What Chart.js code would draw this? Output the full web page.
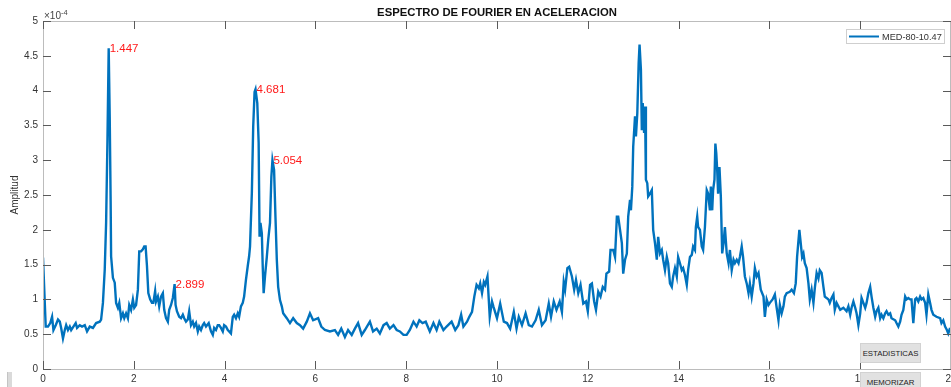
<!DOCTYPE html>
<html>
<head>
<meta charset="utf-8">
<title>Espectro de Fourier</title>
<script src="https://cdn.jsdelivr.net/npm/chart.js@4.4.1/dist/chart.umd.min.js"></script>
<style>
  body { margin: 0; background: #fff; overflow: hidden; }
  #wrap { position: relative; width: 951px; height: 387px; overflow: hidden; }
  .btn {
    position: absolute; left: 860px; width: 61px; height: 20px;
    box-sizing: border-box; background: #e1e1e1; border: 1px solid #d2d2d2;
    font: 7.8px 'Liberation Sans', Arial, sans-serif; color: #222;
    display: flex; align-items: center; justify-content: center;
  }
  #slider { position: absolute; left: 7px; top: 372px; width: 5px; height: 16px;
    background: #dadada; border-left: 1px solid #c4c4c4; box-sizing: border-box; }
</style>
</head>
<body>
<div id="wrap">
  <canvas id="myChart" width="951" height="387"></canvas>
  <div class="btn" style="top:343px">ESTADISTICAS</div>
  <div class="btn" style="top:372px">MEMORIZAR</div>
  <div id="slider"></div>
</div>
<script>
// Data: espectro de Fourier (amplitud en unidades de 1e-4)
const seriesName = 'MED-80-10.47';
const freq = [
  0.00, 0.06, 0.11, 0.16, 0.20, 0.23, 0.28, 0.33, 0.37, 0.40, 0.44, 0.48, 0.51, 0.55, 0.59, 0.62,
  0.67, 0.72, 0.75, 0.81, 0.86, 0.92, 0.97, 1.03, 1.10, 1.17, 1.25, 1.28, 1.32, 1.36, 1.39, 1.42,
  1.447, 1.47, 1.49, 1.50, 1.54, 1.58, 1.61, 1.65, 1.68, 1.72, 1.76, 1.79, 1.83, 1.87, 1.90, 1.94,
  1.98, 2.01, 2.05, 2.09, 2.12, 2.16, 2.20, 2.23, 2.26, 2.29, 2.32, 2.36, 2.40, 2.43, 2.47, 2.49,
  2.53, 2.56, 2.60, 2.64, 2.67, 2.71, 2.75, 2.78, 2.82, 2.86, 2.899, 2.92, 2.95, 3.00, 3.04, 3.08,
  3.11, 3.15, 3.19, 3.22, 3.26, 3.30, 3.33, 3.37, 3.41, 3.44, 3.48, 3.52, 3.55, 3.59, 3.65, 3.70,
  3.74, 3.77, 3.81, 3.85, 3.88, 3.92, 3.96, 3.99, 4.03, 4.07, 4.10, 4.14, 4.18, 4.21, 4.25, 4.29,
  4.32, 4.36, 4.40, 4.43, 4.47, 4.51, 4.54, 4.56, 4.60, 4.63, 4.66, 4.681, 4.72, 4.75, 4.77, 4.79,
  4.82, 4.84, 4.86, 4.89, 4.93, 4.96, 5.00, 5.03, 5.054, 5.09, 5.12, 5.15, 5.18, 5.22, 5.26, 5.29,
  5.37, 5.44, 5.51, 5.59, 5.66, 5.73, 5.81, 5.88, 5.95, 6.06, 6.13, 6.21, 6.32, 6.43, 6.50, 6.57,
  6.65, 6.72, 6.80, 6.87, 6.94, 7.02, 7.09, 7.20, 7.27, 7.35, 7.42, 7.50, 7.57, 7.64, 7.72, 7.79,
  7.86, 7.94, 8.01, 8.08, 8.16, 8.23, 8.29, 8.36, 8.43, 8.52, 8.60, 8.67, 8.73, 8.82, 8.89, 9.00,
  9.08, 9.15, 9.21, 9.26, 9.34, 9.39, 9.45, 9.50, 9.55, 9.60, 9.63, 9.67, 9.71, 9.74, 9.79, 9.84,
  9.89, 9.92, 10.00, 10.07, 10.15, 10.22, 10.29, 10.37, 10.43, 10.48, 10.55, 10.63, 10.70, 10.77, 10.85, 10.92,
  10.99, 11.07, 11.14, 11.19, 11.25, 11.31, 11.38, 11.43, 11.47, 11.50, 11.55, 11.59, 11.65, 11.70, 11.74, 11.79,
  11.84, 11.90, 11.96, 12.00, 12.05, 12.09, 12.14, 12.18, 12.23, 12.28, 12.33, 12.38, 12.41, 12.47, 12.50, 12.56,
  12.60, 12.64, 12.67, 12.71, 12.75, 12.78, 12.82, 12.86, 12.89, 12.93, 12.95, 12.98, 13.00, 13.04, 13.06, 13.09,
  13.12, 13.14, 13.17, 13.19, 13.21, 13.24, 13.26, 13.28, 13.31, 13.33, 13.37, 13.41, 13.44, 13.48, 13.52, 13.55,
  13.59, 13.63, 13.66, 13.70, 13.74, 13.77, 13.81, 13.85, 13.88, 13.92, 13.96, 13.99, 14.03, 14.07, 14.10, 14.14,
  14.18, 14.21, 14.25, 14.29, 14.32, 14.36, 14.38, 14.41, 14.43, 14.47, 14.51, 14.54, 14.58, 14.62, 14.65, 14.69,
  14.71, 14.74, 14.76, 14.79, 14.81, 14.83, 14.85, 14.87, 14.90, 14.93, 14.96, 14.99, 15.02, 15.06, 15.10, 15.13,
  15.17, 15.21, 15.24, 15.28, 15.32, 15.35, 15.39, 15.42, 15.46, 15.50, 15.54, 15.57, 15.61, 15.65, 15.68, 15.72,
  15.76, 15.81, 15.87, 15.90, 15.94, 15.98, 16.01, 16.07, 16.12, 16.16, 16.20, 16.23, 16.27, 16.31, 16.34, 16.38,
  16.45, 16.49, 16.54, 16.58, 16.61, 16.66, 16.69, 16.72, 16.75, 16.78, 16.82, 16.86, 16.89, 16.93, 16.97, 17.00,
  17.04, 17.08, 17.11, 17.15, 17.19, 17.22, 17.26, 17.30, 17.33, 17.37, 17.41, 17.44, 17.48, 17.52, 17.56, 17.63,
  17.70, 17.74, 17.78, 17.81, 17.85, 17.89, 17.92, 17.96, 18.00, 18.03, 18.07, 18.11, 18.14, 18.18, 18.22, 18.25,
  18.29, 18.33, 18.36, 18.40, 18.44, 18.47, 18.51, 18.55, 18.58, 18.62, 18.66, 18.69, 18.77, 18.80, 18.84, 18.88,
  18.91, 18.95, 18.99, 19.02, 19.06, 19.10, 19.13, 19.17, 19.21, 19.24, 19.28, 19.32, 19.35, 19.39, 19.43, 19.46,
  19.50, 19.54, 19.57, 19.61, 19.68, 19.76, 19.79, 19.83, 19.87, 19.91, 19.94, 19.98
];
const amp = [
  1.60, 0.61, 0.61, 0.66, 0.75, 0.56, 0.63, 0.71, 0.68, 0.59, 0.44, 0.56, 0.63, 0.56, 0.61, 0.56,
  0.61, 0.66, 0.59, 0.63, 0.61, 0.63, 0.54, 0.61, 0.59, 0.66, 0.68, 0.71, 0.95, 1.43, 2.10, 3.30,
  4.61, 3.60, 2.40, 1.62, 1.31, 1.24, 0.95, 0.88, 0.95, 0.73, 0.80, 0.73, 0.80, 0.73, 0.92, 0.85,
  1.00, 0.88, 0.92, 1.14, 1.69, 1.69, 1.72, 1.76, 1.76, 1.48, 1.09, 1.00, 0.95, 0.95, 1.12, 0.97,
  1.04, 0.90, 1.04, 1.09, 0.85, 0.73, 0.68, 0.85, 0.92, 1.02, 1.22, 0.92, 0.83, 0.75, 0.73, 0.78,
  0.73, 0.68, 0.71, 0.83, 0.63, 0.68, 0.61, 0.66, 0.54, 0.61, 0.56, 0.63, 0.66, 0.61, 0.66, 0.54,
  0.49, 0.59, 0.56, 0.63, 0.63, 0.59, 0.54, 0.63, 0.61, 0.56, 0.54, 0.51, 0.75, 0.78, 0.73, 0.80,
  0.75, 0.90, 0.95, 1.04, 1.28, 1.48, 1.62, 1.76, 2.53, 3.48, 3.98, 4.02, 3.82, 3.25, 1.90, 2.10,
  1.95, 1.47, 1.09, 1.33, 1.61, 1.85, 2.10, 2.76, 3.00, 2.86, 2.19, 1.57, 1.18, 0.99, 0.90, 0.80,
  0.73, 0.66, 0.73, 0.66, 0.63, 0.58, 0.68, 0.80, 0.70, 0.73, 0.61, 0.56, 0.54, 0.56, 0.49, 0.58,
  0.46, 0.56, 0.49, 0.58, 0.66, 0.49, 0.56, 0.68, 0.54, 0.58, 0.51, 0.63, 0.66, 0.58, 0.63, 0.56,
  0.54, 0.49, 0.49, 0.56, 0.68, 0.61, 0.70, 0.66, 0.68, 0.54, 0.66, 0.56, 0.68, 0.56, 0.61, 0.68,
  0.56, 0.63, 0.78, 0.61, 0.68, 0.75, 0.82, 1.04, 1.21, 1.16, 1.23, 1.09, 1.25, 1.21, 1.33, 0.75,
  0.97, 0.90, 0.73, 0.94, 0.68, 0.66, 0.58, 0.82, 0.58, 0.75, 0.63, 0.80, 0.63, 0.61, 0.70, 0.85,
  0.63, 0.70, 0.94, 0.75, 0.97, 0.85, 0.97, 0.82, 1.25, 1.14, 1.45, 1.47, 1.33, 1.14, 1.28, 1.09,
  1.21, 0.94, 0.97, 0.83, 1.21, 1.23, 0.97, 0.85, 1.11, 1.04, 1.18, 1.14, 1.37, 1.40, 1.71, 1.71,
  1.61, 2.19, 2.19, 2.00, 1.81, 1.37, 1.57, 1.66, 2.19, 2.43, 2.28, 2.62, 3.19, 3.63, 3.34, 3.67,
  4.39, 4.66, 4.30, 3.43, 3.82, 3.39, 3.77, 2.72, 2.67, 2.48, 2.52, 2.57, 2.00, 1.81, 1.57, 1.90,
  1.66, 1.71, 1.57, 1.42, 1.61, 1.52, 1.23, 1.18, 1.33, 1.45, 1.33, 1.61, 1.52, 1.42, 1.45, 1.35,
  1.21, 1.42, 1.61, 1.64, 1.76, 1.71, 2.04, 2.19, 2.04, 2.00, 1.76, 1.71, 2.04, 2.57, 2.52, 2.28,
  2.62, 2.28, 2.57, 2.72, 3.24, 3.10, 2.86, 2.52, 2.90, 2.48, 1.66, 1.81, 2.04, 1.66, 1.52, 1.71,
  1.42, 1.57, 1.52, 1.57, 1.52, 1.61, 1.76, 1.61, 1.33, 1.23, 1.09, 1.23, 1.04, 1.23, 1.45, 1.33,
  1.38, 1.14, 1.04, 0.75, 1.00, 0.92, 0.95, 1.00, 1.07, 0.88, 0.70, 0.92, 0.80, 0.90, 1.04, 1.09,
  1.11, 1.14, 1.09, 1.23, 1.61, 2.00, 1.81, 1.61, 1.66, 1.52, 1.45, 1.23, 1.00, 1.14, 0.95, 1.16,
  1.38, 1.30, 1.42, 1.38, 1.18, 1.04, 1.02, 1.00, 0.95, 1.02, 1.07, 0.85, 0.95, 0.90, 0.85, 0.88,
  0.83, 0.90, 0.78, 0.88, 0.97, 0.88, 0.80, 0.63, 0.80, 1.02, 0.95, 0.88, 0.95, 1.09, 1.18, 1.04,
  0.88, 0.75, 0.83, 0.88, 0.73, 0.78, 0.73, 0.80, 0.83, 0.78, 0.80, 0.73, 0.70, 0.66, 0.61, 0.68,
  0.78, 0.85, 1.04, 1.00, 1.02, 1.00, 1.00, 0.66, 1.00, 1.02, 0.97, 1.04, 1.00, 1.02, 0.95, 0.78,
  1.07, 0.95, 0.85, 0.78, 0.75, 0.73, 0.66, 0.70, 0.61, 0.56, 0.51, 0.59
];
// picos marcados en rojo
const peakFreq = [1.447, 2.899, 4.681, 5.054];
const peakText = ['1.447', '2.899', '4.681', '5.054'];

const FONT = "'Liberation Sans', Arial, Helvetica, sans-serif";
Chart.defaults.font.family = FONT;

const points = freq.map((f, i) => ({ x: f, y: amp[i] }));

// ejes estilo matlab: caja, ticks hacia dentro, titulo, exponente, leyenda
const matlabAxes = {
  id: 'matlabAxes',
  afterDatasetsDraw(chart) {
    const { ctx, scales: { x, y } } = chart;
    ctx.save();
    ctx.fillStyle = '#ff1a1a';
    ctx.font = '11.5px ' + FONT;
    ctx.textAlign = 'left';
    ctx.textBaseline = 'middle';
    peakFreq.forEach((f, i) => {
      const k = freq.indexOf(f);
      ctx.fillText(peakText[i], x.getPixelForValue(f) + 1, y.getPixelForValue(amp[k]) + 1);
    });
    ctx.restore();
  },
  afterDraw(chart) {
    const { ctx, chartArea: a, scales: { x, y } } = chart;
    ctx.save();
    // caja
    ctx.strokeStyle = '#bcbcbc';
    ctx.lineWidth = 1;
    ctx.beginPath();
    ctx.moveTo(a.left + 0.5, a.bottom + 0.5);
    ctx.lineTo(a.left + 0.5, a.top + 0.5);
    ctx.lineTo(a.right - 0.5, a.top + 0.5);
    ctx.lineTo(a.right - 0.5, a.bottom + 0.5);
    ctx.lineTo(a.left + 0.5, a.bottom + 0.5);
    ctx.stroke();
    // ticks
    ctx.strokeStyle = '#5a5a5a';
    ctx.beginPath();
    x.ticks.forEach(t => {
      const px = Math.round(x.getPixelForValue(t.value)) + 0.5;
      ctx.moveTo(px, a.bottom); ctx.lineTo(px, a.bottom - 8);
      ctx.moveTo(px, a.top); ctx.lineTo(px, a.top + 8);
    });
    y.ticks.forEach(t => {
      const py = Math.round(y.getPixelForValue(t.value)) + 0.5;
      ctx.moveTo(a.left, py); ctx.lineTo(a.left + 8, py);
      ctx.moveTo(a.right, py); ctx.lineTo(a.right - 8, py);
    });
    ctx.stroke();

    // titulo
    ctx.fillStyle = '#111';
    ctx.font = 'bold 11.3px ' + FONT;
    ctx.textAlign = 'center';
    ctx.textBaseline = 'middle';
    ctx.fillText('ESPECTRO DE FOURIER EN ACELERACION', 497, 13);

    // etiqueta eje y
    ctx.fillStyle = '#333';
    ctx.font = '10px ' + FONT;
    ctx.save();
    ctx.translate(15, (a.top + a.bottom) / 2);
    ctx.rotate(-Math.PI / 2);
    ctx.fillText('Amplitud', 0, 0);
    ctx.restore();

    // exponente
    ctx.textAlign = 'left';
    ctx.textBaseline = 'alphabetic';
    ctx.fillStyle = '#444';
    ctx.font = '10px ' + FONT;
    ctx.fillText('\u00d710', a.left + 1, 18.5);
    ctx.font = '7.5px ' + FONT;
    ctx.fillText('-4', a.left + 18, 15);

    // leyenda
    ctx.fillStyle = '#fff';
    ctx.fillRect(846, 29, 98, 14);
    ctx.strokeStyle = '#cfcfcf';
    ctx.strokeRect(846.5, 29.5, 98, 14);
    ctx.strokeStyle = '#0072BD';
    ctx.lineWidth = 2;
    ctx.beginPath();
    ctx.moveTo(849, 36.5); ctx.lineTo(879, 36.5);
    ctx.stroke();
    ctx.fillStyle = '#333';
    ctx.font = '9.2px ' + FONT;
    ctx.textBaseline = 'middle';
    ctx.fillText(seriesName, 882, 37);
    ctx.restore();
  }
};

const data = {
  datasets: [{
    label: seriesName,
    data: points,
    borderColor: '#0072BD',
    borderWidth: 2.4,
    pointRadius: 0,
    tension: 0,
    fill: false
  }]
};

const config = {
  type: 'line',
  data,
  options: {
    responsive: false,
    animation: false,
    devicePixelRatio: 1,
    layout: { padding: { top: 21, left: 0, right: 0, bottom: 0 }, autoPadding: false },
    scales: {
      x: {
        type: 'linear',
        min: 0,
        max: 20,
        grid: { display: false, drawTicks: false },
        border: { display: false },
        ticks: { stepSize: 2, color: '#333', font: { size: 10 }, padding: 4, maxRotation: 0, autoSkip: false },
        afterFit: s => { s.height = 18; s.paddingLeft = 0; s.paddingRight = 0; }
      },
      y: {
        min: 0,
        max: 5,
        grid: { display: false, drawTicks: false },
        border: { display: false },
        ticks: {
          stepSize: 0.5, color: '#333', font: { size: 10 }, padding: 5,
          callback: v => String(Math.round(v * 10) / 10)
        },
        afterFit: s => { s.width = 43; s.paddingTop = 0; s.paddingBottom = 0; }
      }
    },
    plugins: {
      legend: { display: false },
      tooltip: { enabled: false }
    }
  },
  plugins: [matlabAxes]
};

const myChart = new Chart(document.getElementById('myChart'), config);
</script>
</body>
</html>
